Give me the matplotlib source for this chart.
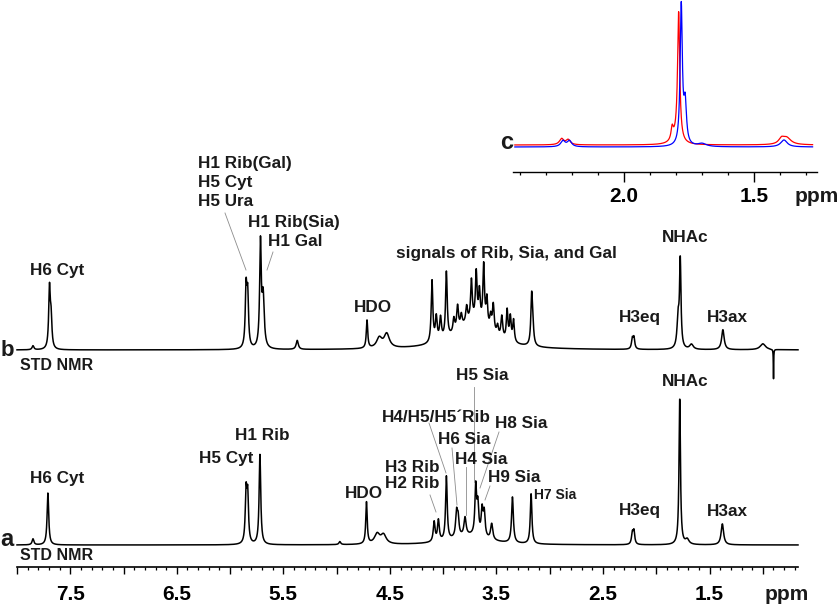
import numpy as np
import matplotlib
matplotlib.use("Agg")
import matplotlib.pyplot as plt
from matplotlib.lines import Line2D

plt.rcParams['font.family'] = ['Liberation Sans', 'DejaVu Sans']

W, H = 840, 608

# peak lists: position (ppm), height (px), half width (ppm)
a_ppm = [7.85, 7.71, 5.85, 5.835, 5.72, 4.97, 4.72, 4.62, 4.56,
         4.085, 4.045, 3.97, 3.875, 3.86, 3.795, 3.695, 3.675, 3.635, 3.615,
         3.545, 3.35, 3.175, 3.75, 2.225, 2.21, 1.78, 1.71, 1.38]
a_height = [6, 52, 50, 46, 90, 3, 42, 10, 9,
            20, 21, 64, 24, 18, 18, 48, 30, 26, 24,
            16, 46, 50, 9, 11, 13, 146, 5, 21]
a_width = [0.01, 0.009, 0.009, 0.009, 0.009, 0.01, 0.008, 0.03, 0.03,
           0.01, 0.01, 0.009, 0.01, 0.01, 0.012, 0.009, 0.01, 0.01, 0.01,
           0.012, 0.01, 0.009, 0.2, 0.009, 0.009, 0.008, 0.02, 0.014]

b_ppm = [7.85, 7.695, 7.68, 5.85, 5.835, 5.715, 5.69, 5.37, 4.715, 4.6, 4.53,
         4.105, 4.065, 4.025, 3.97, 3.90, 3.865, 3.83, 3.78, 3.735, 3.69,
         3.66, 3.62, 3.59, 3.555, 3.53, 3.49, 3.45, 3.40, 3.37, 3.34,
         3.72, 3.17, 3.16, 2.225, 2.21, 1.795, 1.775, 1.67, 1.375, 1.0, 0.90]
b_height = [4, 60, 28, 58, 50, 104, 50, 9, 28, 10, 14,
            62, 24, 22, 66, 14, 24, 12, 16, 40, 48,
            30, 60, 28, 14, 28, 10, 22, 30, 24, 22,
            28, 46, 18, 10, 11, 30, 86, 5, 20, 6, -30]
b_width = [0.01, 0.009, 0.009, 0.009, 0.009, 0.009, 0.012, 0.012, 0.008, 0.03, 0.03,
           0.009, 0.01, 0.01, 0.009, 0.01, 0.01, 0.01, 0.01, 0.009, 0.009,
           0.009, 0.009, 0.009, 0.01, 0.01, 0.01, 0.01, 0.009, 0.009, 0.009,
           0.2, 0.009, 0.01, 0.009, 0.009, 0.012, 0.008, 0.02, 0.014, 0.03, 0.002]

# inset c (NHAc region): blue and red traces
blue_ppm = [2.235, 2.21, 1.78, 1.765, 1.70, 1.385]
blue_height = [6, 6, 140, 40, 3, 7]
blue_width = [0.01, 0.01, 0.005, 0.006, 0.02, 0.015]
red_ppm = [2.24, 2.215, 1.80, 1.815, 1.79, 1.395, 1.375]
red_height = [6, 5, 6, 12, 128, 5, 7]
red_width = [0.01, 0.01, 0.02, 0.005, 0.005, 0.012, 0.02]

main_ticks = [8.0, 7.5, 7.0, 6.5, 6.0, 5.5, 5.0, 4.5, 4.0, 3.5, 3.0, 2.5, 2.0, 1.5, 1.0]
main_labels = ['', '7.5', '', '6.5', '', '5.5', '', '4.5', '', '3.5', '', '2.5', '', '1.5', '']
inset_ticks = [2.0, 1.5]
inset_labels = ['2.0', '1.5']


def spectrum(x, pos, hgt, wid):
    y = np.zeros_like(x)
    for p, h, w in zip(pos, hgt, wid):
        y += h * w**2 / ((x - p)**2 + w**2)
    return y


fig = plt.figure(figsize=(W / 100, H / 100), dpi=100)

# main axes: bottom spine at y=567 px, from 8.0 to 0.67 ppm
ax = fig.add_axes([17 / W, (H - 567) / H, 781 / W, 567 / H])
ax.set_xlim(8.0, 0.67)
ax.set_ylim(0, 567)
x = np.linspace(8.0, 0.67, 6000)
ax.plot(x, 22 + spectrum(x, a_ppm, a_height, a_width), color='black', lw=1.1, clip_on=False)
ax.plot(x, 217 + spectrum(x, b_ppm, b_height, b_width), color='black', lw=1.1, clip_on=False)

for s in ['top', 'left', 'right']:
    ax.spines[s].set_visible(False)
ax.spines['bottom'].set_linewidth(1.2)
ax.set_yticks([])
ax.set_xticks(main_ticks, main_labels)
ax.set_xticks(np.round(np.arange(8.0, 0.65, -0.1), 1), minor=True)
ax.tick_params(axis='x', which='major', direction='out', length=5, width=1.0,
               pad=8, labelsize=15)
ax.tick_params(axis='x', which='minor', direction='out', length=2.5, width=0.9)
for lab in ax.get_xticklabels():
    lab.set_fontweight('bold')
ax.patch.set_alpha(0)

# inset c
axi = fig.add_axes([513 / W, (H - 172) / H, 304 / W, 172 / H])
axi.set_xlim(2.427, 1.258)
axi.set_ylim(0, 172)
xi = np.linspace(2.42, 1.275, 3000)
axi.plot(xi, 27 + spectrum(xi, red_ppm, red_height, red_width), color='red', lw=0.9, clip_on=False)
axi.plot(xi, 25 + spectrum(xi, blue_ppm, blue_height, blue_width), color='blue', lw=0.9, clip_on=False)
for s in ['top', 'left', 'right']:
    axi.spines[s].set_visible(False)
axi.spines['bottom'].set_linewidth(1.0)
axi.set_yticks([])
axi.set_xticks(inset_ticks, inset_labels)
axi.set_xticks(np.round(np.arange(2.4, 1.25, -0.1), 1), minor=True)
axi.tick_params(axis='x', which='major', direction='out', length=7, width=1.0,
                pad=4, labelsize=15)
axi.tick_params(axis='x', which='minor', direction='out', length=2.5, width=0.9)
for lab in axi.get_xticklabels():
    lab.set_fontweight('bold')
axi.patch.set_alpha(0)


def ftext(px, py, s, size=12.3, ha='center', va='center', **kw):
    fig.text(px / W, 1 - py / H, s, ha=ha, va=va, fontsize=size,
             fontweight='bold', color='#1a1a1a', **kw)


def lead(x0, y0, x1, y1):
    fig.add_artist(Line2D([x0 / W, x1 / W], [1 - y0 / H, 1 - y1 / H],
                          transform=fig.transFigure, color='0.55', lw=0.6))


# axis words
ftext(787, 595, 'ppm', size=15)
ftext(817, 197, 'ppm', size=15)
ftext(507, 149, 'c', size=17, va='baseline')
ftext(7, 356, 'b', size=16, va='baseline')
ftext(7, 546, 'a', size=17, va='baseline')
ftext(57, 365, 'STD NMR', size=11.5)
ftext(57, 556, 'STD NMR', size=11.5)

# trace b labels
ftext(57, 271, 'H6 Cyt')
ftext(198, 163, 'H1 Rib(Gal)', ha='left')
ftext(198, 183, 'H5 Cyt', ha='left')
ftext(198, 202, 'H5 Ura', ha='left')
ftext(248, 223, 'H1 Rib(Sia)', ha='left')
ftext(268, 242, 'H1 Gal', ha='left')
ftext(373, 307, 'HDO')
ftext(506, 253, 'signals of Rib, Sia, and Gal')
ftext(640, 317, 'H3eq')
ftext(685, 238, 'NHAc')
ftext(727, 318, 'H3ax')
lead(225, 213, 246, 270)
lead(273, 252, 267, 270)

# trace a labels
ftext(57, 479, 'H6 Cyt')
ftext(226, 459, 'H5 Cyt')
ftext(262, 436, 'H1 Rib')
ftext(364, 494, 'HDO')
ftext(385, 468, 'H3 Rib', ha='left')
ftext(385, 484, 'H2 Rib', ha='left')
ftext(382, 417, 'H4/H5/H5\u00b4Rib', ha='left')
ftext(456, 375, 'H5 Sia', ha='left')
ftext(495, 423, 'H8 Sia', ha='left')
ftext(438, 440, 'H6 Sia', ha='left')
ftext(455, 459, 'H4 Sia', ha='left')
ftext(488, 477, 'H9 Sia', ha='left')
ftext(534, 495, 'H7 Sia', size=10, ha='left')
ftext(640, 510, 'H3eq')
ftext(685, 382, 'NHAc')
ftext(727, 511, 'H3ax')
lead(430, 495, 436, 512)
lead(429, 423, 446, 473)
lead(452, 448, 457, 505)
lead(466, 467, 466, 515)
lead(474, 387, 474, 482)
lead(499, 432, 480, 488)
lead(490, 486, 485, 500)

fig.savefig('out.png', dpi=100)
